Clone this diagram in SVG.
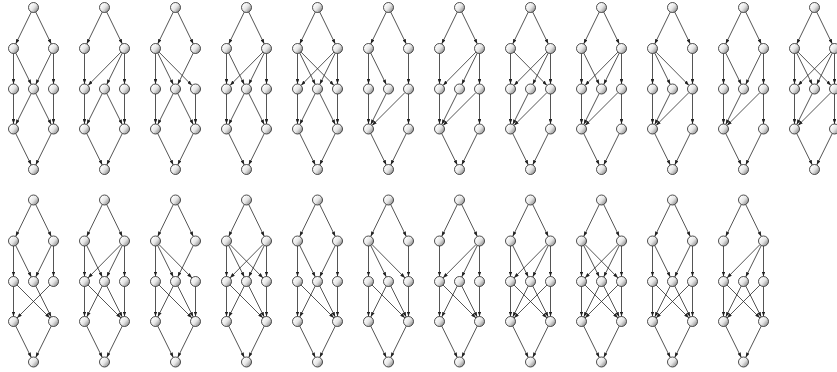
<svg xmlns="http://www.w3.org/2000/svg" xmlns:xlink="http://www.w3.org/1999/xlink" width="837" height="372" viewBox="0 0 837 372">
<defs>
<linearGradient id="gr" x1="0.15" y1="0.2" x2="1" y2="0.9"><stop offset="0" stop-color="#ffffff"/><stop offset="0.45" stop-color="#e6e6e6"/><stop offset="1" stop-color="#7a7a7a"/></linearGradient>
<marker id="ar" viewBox="0 0 5 3.6" refX="5" refY="1.8" markerWidth="5" markerHeight="3.6" markerUnits="userSpaceOnUse" orient="auto"><path d="M0 0L5 1.8L0 3.6Z" fill="#222"/></marker>
<circle id="N" r="5" fill="url(#gr)" stroke="#222" stroke-width="0.8"/>
<path id="TA" d="M-2.19 4.49L-17.81 36.51"/>
<path id="TB" d="M2.19 4.49L17.81 36.51"/>
<path id="Ax" d="M-20 46V76.5"/>
<path id="Bz" d="M20 46V76.5"/>
<path id="Ay" d="M-17.79 45.48L-2.21 77.02"/>
<path id="By" d="M17.79 45.48L2.21 77.02"/>
<path id="Az" d="M-16.49 44.56L16.49 77.94"/>
<path id="Bx" d="M16.49 44.56L-16.49 77.94"/>
<path id="xP" d="M-20 86.5V116.5"/>
<path id="zQ" d="M20 86.5V116.5"/>
<path id="yP" d="M-2.24 85.97L-17.76 117.03"/>
<path id="yQ" d="M2.24 85.97L17.76 117.03"/>
<path id="xQ" d="M-16.46 85.04L16.46 117.96"/>
<path id="zP" d="M16.46 85.04L-16.46 117.96"/>
<path id="PE" d="M-17.79 125.98L-2.21 157.52"/>
<path id="QE" d="M17.79 125.98L2.21 157.52"/>
<g id="F"><use href="#TA"/><use href="#TB"/><use href="#PE"/><use href="#QE"/></g>
</defs>
<style>
.edges{fill:none;stroke:#2a2a2a;stroke-width:0.8;marker-end:url(#ar)}
</style>
<rect width="837" height="372" fill="#ffffff"/>

<g id="lattice-1" transform="translate(33.5 7.5)">
<g class="edges"><use href="#F"/><use href="#Ax"/><use href="#Ay"/><use href="#By"/><use href="#Bz"/><use href="#xP"/><use href="#yP"/><use href="#yQ"/><use href="#zQ"/></g>
<g id="l1-t"><use href="#N"/></g><g id="l1-a"><use href="#N" x="-20" y="41"/></g><g id="l1-b"><use href="#N" x="20" y="41"/></g><g id="l1-x"><use href="#N" x="-20" y="81.5"/></g><g id="l1-y"><use href="#N" x="0" y="81.5"/></g><g id="l1-z"><use href="#N" x="20" y="81.5"/></g><g id="l1-p"><use href="#N" x="-20" y="121.5"/></g><g id="l1-q"><use href="#N" x="20" y="121.5"/></g><g id="l1-e"><use href="#N" x="0" y="162"/></g>
</g>

<g id="lattice-2" transform="translate(104.5 7.5)">
<g class="edges"><use href="#F"/><use href="#Ax"/><use href="#Bx"/><use href="#By"/><use href="#Bz"/><use href="#xP"/><use href="#yP"/><use href="#yQ"/><use href="#zQ"/></g>
<g id="l2-t"><use href="#N"/></g><g id="l2-a"><use href="#N" x="-20" y="41"/></g><g id="l2-b"><use href="#N" x="20" y="41"/></g><g id="l2-x"><use href="#N" x="-20" y="81.5"/></g><g id="l2-y"><use href="#N" x="0" y="81.5"/></g><g id="l2-z"><use href="#N" x="20" y="81.5"/></g><g id="l2-p"><use href="#N" x="-20" y="121.5"/></g><g id="l2-q"><use href="#N" x="20" y="121.5"/></g><g id="l2-e"><use href="#N" x="0" y="162"/></g>
</g>

<g id="lattice-3" transform="translate(175.5 7.5)">
<g class="edges"><use href="#F"/><use href="#Ax"/><use href="#Ay"/><use href="#Az"/><use href="#By"/><use href="#xP"/><use href="#yP"/><use href="#yQ"/><use href="#zQ"/></g>
<g id="l3-t"><use href="#N"/></g><g id="l3-a"><use href="#N" x="-20" y="41"/></g><g id="l3-b"><use href="#N" x="20" y="41"/></g><g id="l3-x"><use href="#N" x="-20" y="81.5"/></g><g id="l3-y"><use href="#N" x="0" y="81.5"/></g><g id="l3-z"><use href="#N" x="20" y="81.5"/></g><g id="l3-p"><use href="#N" x="-20" y="121.5"/></g><g id="l3-q"><use href="#N" x="20" y="121.5"/></g><g id="l3-e"><use href="#N" x="0" y="162"/></g>
</g>

<g id="lattice-4" transform="translate(246.5 7.5)">
<g class="edges"><use href="#F"/><use href="#Ax"/><use href="#Ay"/><use href="#Bx"/><use href="#By"/><use href="#Bz"/><use href="#xP"/><use href="#yP"/><use href="#yQ"/><use href="#zQ"/></g>
<g id="l4-t"><use href="#N"/></g><g id="l4-a"><use href="#N" x="-20" y="41"/></g><g id="l4-b"><use href="#N" x="20" y="41"/></g><g id="l4-x"><use href="#N" x="-20" y="81.5"/></g><g id="l4-y"><use href="#N" x="0" y="81.5"/></g><g id="l4-z"><use href="#N" x="20" y="81.5"/></g><g id="l4-p"><use href="#N" x="-20" y="121.5"/></g><g id="l4-q"><use href="#N" x="20" y="121.5"/></g><g id="l4-e"><use href="#N" x="0" y="162"/></g>
</g>

<g id="lattice-5" transform="translate(317.5 7.5)">
<g class="edges"><use href="#F"/><use href="#Ax"/><use href="#Ay"/><use href="#Az"/><use href="#Bx"/><use href="#By"/><use href="#Bz"/><use href="#xP"/><use href="#yP"/><use href="#yQ"/><use href="#zQ"/></g>
<g id="l5-t"><use href="#N"/></g><g id="l5-a"><use href="#N" x="-20" y="41"/></g><g id="l5-b"><use href="#N" x="20" y="41"/></g><g id="l5-x"><use href="#N" x="-20" y="81.5"/></g><g id="l5-y"><use href="#N" x="0" y="81.5"/></g><g id="l5-z"><use href="#N" x="20" y="81.5"/></g><g id="l5-p"><use href="#N" x="-20" y="121.5"/></g><g id="l5-q"><use href="#N" x="20" y="121.5"/></g><g id="l5-e"><use href="#N" x="0" y="162"/></g>
</g>

<g id="lattice-6" transform="translate(388.5 7.5)">
<g class="edges"><use href="#F"/><use href="#Ax"/><use href="#Ay"/><use href="#Bz"/><use href="#xP"/><use href="#yP"/><use href="#zP"/><use href="#zQ"/></g>
<g id="l6-t"><use href="#N"/></g><g id="l6-a"><use href="#N" x="-20" y="41"/></g><g id="l6-b"><use href="#N" x="20" y="41"/></g><g id="l6-x"><use href="#N" x="-20" y="81.5"/></g><g id="l6-y"><use href="#N" x="0" y="81.5"/></g><g id="l6-z"><use href="#N" x="20" y="81.5"/></g><g id="l6-p"><use href="#N" x="-20" y="121.5"/></g><g id="l6-q"><use href="#N" x="20" y="121.5"/></g><g id="l6-e"><use href="#N" x="0" y="162"/></g>
</g>

<g id="lattice-7" transform="translate(459.5 7.5)">
<g class="edges"><use href="#F"/><use href="#Ax"/><use href="#Bx"/><use href="#By"/><use href="#Bz"/><use href="#xP"/><use href="#yP"/><use href="#zP"/><use href="#zQ"/></g>
<g id="l7-t"><use href="#N"/></g><g id="l7-a"><use href="#N" x="-20" y="41"/></g><g id="l7-b"><use href="#N" x="20" y="41"/></g><g id="l7-x"><use href="#N" x="-20" y="81.5"/></g><g id="l7-y"><use href="#N" x="0" y="81.5"/></g><g id="l7-z"><use href="#N" x="20" y="81.5"/></g><g id="l7-p"><use href="#N" x="-20" y="121.5"/></g><g id="l7-q"><use href="#N" x="20" y="121.5"/></g><g id="l7-e"><use href="#N" x="0" y="162"/></g>
</g>

<g id="lattice-8" transform="translate(530.5 7.5)">
<g class="edges"><use href="#F"/><use href="#Ax"/><use href="#Az"/><use href="#Bx"/><use href="#By"/><use href="#Bz"/><use href="#xP"/><use href="#yP"/><use href="#zP"/><use href="#zQ"/></g>
<g id="l8-t"><use href="#N"/></g><g id="l8-a"><use href="#N" x="-20" y="41"/></g><g id="l8-b"><use href="#N" x="20" y="41"/></g><g id="l8-x"><use href="#N" x="-20" y="81.5"/></g><g id="l8-y"><use href="#N" x="0" y="81.5"/></g><g id="l8-z"><use href="#N" x="20" y="81.5"/></g><g id="l8-p"><use href="#N" x="-20" y="121.5"/></g><g id="l8-q"><use href="#N" x="20" y="121.5"/></g><g id="l8-e"><use href="#N" x="0" y="162"/></g>
</g>

<g id="lattice-9" transform="translate(601.5 7.5)">
<g class="edges"><use href="#F"/><use href="#Ax"/><use href="#Ay"/><use href="#Bx"/><use href="#By"/><use href="#Bz"/><use href="#xP"/><use href="#yP"/><use href="#zP"/><use href="#zQ"/></g>
<g id="l9-t"><use href="#N"/></g><g id="l9-a"><use href="#N" x="-20" y="41"/></g><g id="l9-b"><use href="#N" x="20" y="41"/></g><g id="l9-x"><use href="#N" x="-20" y="81.5"/></g><g id="l9-y"><use href="#N" x="0" y="81.5"/></g><g id="l9-z"><use href="#N" x="20" y="81.5"/></g><g id="l9-p"><use href="#N" x="-20" y="121.5"/></g><g id="l9-q"><use href="#N" x="20" y="121.5"/></g><g id="l9-e"><use href="#N" x="0" y="162"/></g>
</g>

<g id="lattice-10" transform="translate(672.5 7.5)">
<g class="edges"><use href="#F"/><use href="#Ax"/><use href="#Ay"/><use href="#Az"/><use href="#Bz"/><use href="#xP"/><use href="#yP"/><use href="#zP"/><use href="#zQ"/></g>
<g id="l10-t"><use href="#N"/></g><g id="l10-a"><use href="#N" x="-20" y="41"/></g><g id="l10-b"><use href="#N" x="20" y="41"/></g><g id="l10-x"><use href="#N" x="-20" y="81.5"/></g><g id="l10-y"><use href="#N" x="0" y="81.5"/></g><g id="l10-z"><use href="#N" x="20" y="81.5"/></g><g id="l10-p"><use href="#N" x="-20" y="121.5"/></g><g id="l10-q"><use href="#N" x="20" y="121.5"/></g><g id="l10-e"><use href="#N" x="0" y="162"/></g>
</g>

<g id="lattice-11" transform="translate(743.5 7.5)">
<g class="edges"><use href="#F"/><use href="#Ax"/><use href="#Ay"/><use href="#By"/><use href="#Bz"/><use href="#xP"/><use href="#yP"/><use href="#zP"/><use href="#zQ"/></g>
<g id="l11-t"><use href="#N"/></g><g id="l11-a"><use href="#N" x="-20" y="41"/></g><g id="l11-b"><use href="#N" x="20" y="41"/></g><g id="l11-x"><use href="#N" x="-20" y="81.5"/></g><g id="l11-y"><use href="#N" x="0" y="81.5"/></g><g id="l11-z"><use href="#N" x="20" y="81.5"/></g><g id="l11-p"><use href="#N" x="-20" y="121.5"/></g><g id="l11-q"><use href="#N" x="20" y="121.5"/></g><g id="l11-e"><use href="#N" x="0" y="162"/></g>
</g>

<g id="lattice-12" transform="translate(814.5 7.5)">
<g class="edges"><use href="#F"/><use href="#Ax"/><use href="#Ay"/><use href="#Az"/><use href="#Bx"/><use href="#By"/><use href="#Bz"/><use href="#xP"/><use href="#yP"/><use href="#zP"/><use href="#zQ"/></g>
<g id="l12-t"><use href="#N"/></g><g id="l12-a"><use href="#N" x="-20" y="41"/></g><g id="l12-b"><use href="#N" x="20" y="41"/></g><g id="l12-x"><use href="#N" x="-20" y="81.5"/></g><g id="l12-y"><use href="#N" x="0" y="81.5"/></g><g id="l12-z"><use href="#N" x="20" y="81.5"/></g><g id="l12-p"><use href="#N" x="-20" y="121.5"/></g><g id="l12-q"><use href="#N" x="20" y="121.5"/></g><g id="l12-e"><use href="#N" x="0" y="162"/></g>
</g>

<g id="lattice-13" transform="translate(33.5 200)">
<g class="edges"><use href="#F"/><use href="#Ax"/><use href="#Ay"/><use href="#By"/><use href="#Bz"/><use href="#xP"/><use href="#xQ"/><use href="#yQ"/><use href="#zP"/></g>
<g id="l13-t"><use href="#N"/></g><g id="l13-a"><use href="#N" x="-20" y="41"/></g><g id="l13-b"><use href="#N" x="20" y="41"/></g><g id="l13-x"><use href="#N" x="-20" y="81.5"/></g><g id="l13-y"><use href="#N" x="0" y="81.5"/></g><g id="l13-z"><use href="#N" x="20" y="81.5"/></g><g id="l13-p"><use href="#N" x="-20" y="121.5"/></g><g id="l13-q"><use href="#N" x="20" y="121.5"/></g><g id="l13-e"><use href="#N" x="0" y="162"/></g>
</g>

<g id="lattice-14" transform="translate(104.5 200)">
<g class="edges"><use href="#F"/><use href="#Ax"/><use href="#Ay"/><use href="#Bx"/><use href="#By"/><use href="#Bz"/><use href="#xP"/><use href="#xQ"/><use href="#yP"/><use href="#yQ"/><use href="#zQ"/></g>
<g id="l14-t"><use href="#N"/></g><g id="l14-a"><use href="#N" x="-20" y="41"/></g><g id="l14-b"><use href="#N" x="20" y="41"/></g><g id="l14-x"><use href="#N" x="-20" y="81.5"/></g><g id="l14-y"><use href="#N" x="0" y="81.5"/></g><g id="l14-z"><use href="#N" x="20" y="81.5"/></g><g id="l14-p"><use href="#N" x="-20" y="121.5"/></g><g id="l14-q"><use href="#N" x="20" y="121.5"/></g><g id="l14-e"><use href="#N" x="0" y="162"/></g>
</g>

<g id="lattice-15" transform="translate(175.5 200)">
<g class="edges"><use href="#F"/><use href="#Ax"/><use href="#Ay"/><use href="#Az"/><use href="#By"/><use href="#xP"/><use href="#xQ"/><use href="#yP"/><use href="#yQ"/><use href="#zQ"/></g>
<g id="l15-t"><use href="#N"/></g><g id="l15-a"><use href="#N" x="-20" y="41"/></g><g id="l15-b"><use href="#N" x="20" y="41"/></g><g id="l15-x"><use href="#N" x="-20" y="81.5"/></g><g id="l15-y"><use href="#N" x="0" y="81.5"/></g><g id="l15-z"><use href="#N" x="20" y="81.5"/></g><g id="l15-p"><use href="#N" x="-20" y="121.5"/></g><g id="l15-q"><use href="#N" x="20" y="121.5"/></g><g id="l15-e"><use href="#N" x="0" y="162"/></g>
</g>

<g id="lattice-16" transform="translate(246.5 200)">
<g class="edges"><use href="#F"/><use href="#Ax"/><use href="#Ay"/><use href="#Az"/><use href="#Bx"/><use href="#By"/><use href="#Bz"/><use href="#xP"/><use href="#xQ"/><use href="#yP"/><use href="#yQ"/><use href="#zQ"/></g>
<g id="l16-t"><use href="#N"/></g><g id="l16-a"><use href="#N" x="-20" y="41"/></g><g id="l16-b"><use href="#N" x="20" y="41"/></g><g id="l16-x"><use href="#N" x="-20" y="81.5"/></g><g id="l16-y"><use href="#N" x="0" y="81.5"/></g><g id="l16-z"><use href="#N" x="20" y="81.5"/></g><g id="l16-p"><use href="#N" x="-20" y="121.5"/></g><g id="l16-q"><use href="#N" x="20" y="121.5"/></g><g id="l16-e"><use href="#N" x="0" y="162"/></g>
</g>

<g id="lattice-17" transform="translate(317.5 200)">
<g class="edges"><use href="#F"/><use href="#Ax"/><use href="#Ay"/><use href="#By"/><use href="#Bz"/><use href="#xP"/><use href="#xQ"/><use href="#yP"/><use href="#yQ"/><use href="#zQ"/></g>
<g id="l17-t"><use href="#N"/></g><g id="l17-a"><use href="#N" x="-20" y="41"/></g><g id="l17-b"><use href="#N" x="20" y="41"/></g><g id="l17-x"><use href="#N" x="-20" y="81.5"/></g><g id="l17-y"><use href="#N" x="0" y="81.5"/></g><g id="l17-z"><use href="#N" x="20" y="81.5"/></g><g id="l17-p"><use href="#N" x="-20" y="121.5"/></g><g id="l17-q"><use href="#N" x="20" y="121.5"/></g><g id="l17-e"><use href="#N" x="0" y="162"/></g>
</g>

<g id="lattice-18" transform="translate(388.5 200)">
<g class="edges"><use href="#F"/><use href="#Ax"/><use href="#Ay"/><use href="#Az"/><use href="#Bz"/><use href="#xP"/><use href="#xQ"/><use href="#yP"/><use href="#yQ"/><use href="#zQ"/></g>
<g id="l18-t"><use href="#N"/></g><g id="l18-a"><use href="#N" x="-20" y="41"/></g><g id="l18-b"><use href="#N" x="20" y="41"/></g><g id="l18-x"><use href="#N" x="-20" y="81.5"/></g><g id="l18-y"><use href="#N" x="0" y="81.5"/></g><g id="l18-z"><use href="#N" x="20" y="81.5"/></g><g id="l18-p"><use href="#N" x="-20" y="121.5"/></g><g id="l18-q"><use href="#N" x="20" y="121.5"/></g><g id="l18-e"><use href="#N" x="0" y="162"/></g>
</g>

<g id="lattice-19" transform="translate(459.5 200)">
<g class="edges"><use href="#F"/><use href="#Ax"/><use href="#Bx"/><use href="#By"/><use href="#Bz"/><use href="#xP"/><use href="#xQ"/><use href="#yP"/><use href="#yQ"/><use href="#zQ"/></g>
<g id="l19-t"><use href="#N"/></g><g id="l19-a"><use href="#N" x="-20" y="41"/></g><g id="l19-b"><use href="#N" x="20" y="41"/></g><g id="l19-x"><use href="#N" x="-20" y="81.5"/></g><g id="l19-y"><use href="#N" x="0" y="81.5"/></g><g id="l19-z"><use href="#N" x="20" y="81.5"/></g><g id="l19-p"><use href="#N" x="-20" y="121.5"/></g><g id="l19-q"><use href="#N" x="20" y="121.5"/></g><g id="l19-e"><use href="#N" x="0" y="162"/></g>
</g>

<g id="lattice-20" transform="translate(530.5 200)">
<g class="edges"><use href="#F"/><use href="#Ax"/><use href="#Ay"/><use href="#Bx"/><use href="#By"/><use href="#Bz"/><use href="#xP"/><use href="#xQ"/><use href="#yP"/><use href="#yQ"/><use href="#zP"/><use href="#zQ"/></g>
<g id="l20-t"><use href="#N"/></g><g id="l20-a"><use href="#N" x="-20" y="41"/></g><g id="l20-b"><use href="#N" x="20" y="41"/></g><g id="l20-x"><use href="#N" x="-20" y="81.5"/></g><g id="l20-y"><use href="#N" x="0" y="81.5"/></g><g id="l20-z"><use href="#N" x="20" y="81.5"/></g><g id="l20-p"><use href="#N" x="-20" y="121.5"/></g><g id="l20-q"><use href="#N" x="20" y="121.5"/></g><g id="l20-e"><use href="#N" x="0" y="162"/></g>
</g>

<g id="lattice-21" transform="translate(601.5 200)">
<g class="edges"><use href="#F"/><use href="#Ax"/><use href="#Ay"/><use href="#Az"/><use href="#Bx"/><use href="#By"/><use href="#Bz"/><use href="#xP"/><use href="#xQ"/><use href="#yP"/><use href="#yQ"/><use href="#zP"/><use href="#zQ"/></g>
<g id="l21-t"><use href="#N"/></g><g id="l21-a"><use href="#N" x="-20" y="41"/></g><g id="l21-b"><use href="#N" x="20" y="41"/></g><g id="l21-x"><use href="#N" x="-20" y="81.5"/></g><g id="l21-y"><use href="#N" x="0" y="81.5"/></g><g id="l21-z"><use href="#N" x="20" y="81.5"/></g><g id="l21-p"><use href="#N" x="-20" y="121.5"/></g><g id="l21-q"><use href="#N" x="20" y="121.5"/></g><g id="l21-e"><use href="#N" x="0" y="162"/></g>
</g>

<g id="lattice-22" transform="translate(672.5 200)">
<g class="edges"><use href="#F"/><use href="#Ax"/><use href="#Ay"/><use href="#By"/><use href="#Bz"/><use href="#xP"/><use href="#xQ"/><use href="#yP"/><use href="#yQ"/><use href="#zP"/><use href="#zQ"/></g>
<g id="l22-t"><use href="#N"/></g><g id="l22-a"><use href="#N" x="-20" y="41"/></g><g id="l22-b"><use href="#N" x="20" y="41"/></g><g id="l22-x"><use href="#N" x="-20" y="81.5"/></g><g id="l22-y"><use href="#N" x="0" y="81.5"/></g><g id="l22-z"><use href="#N" x="20" y="81.5"/></g><g id="l22-p"><use href="#N" x="-20" y="121.5"/></g><g id="l22-q"><use href="#N" x="20" y="121.5"/></g><g id="l22-e"><use href="#N" x="0" y="162"/></g>
</g>

<g id="lattice-23" transform="translate(743.5 200)">
<g class="edges"><use href="#F"/><use href="#Ax"/><use href="#Bx"/><use href="#By"/><use href="#Bz"/><use href="#xP"/><use href="#xQ"/><use href="#yP"/><use href="#yQ"/><use href="#zP"/><use href="#zQ"/></g>
<g id="l23-t"><use href="#N"/></g><g id="l23-a"><use href="#N" x="-20" y="41"/></g><g id="l23-b"><use href="#N" x="20" y="41"/></g><g id="l23-x"><use href="#N" x="-20" y="81.5"/></g><g id="l23-y"><use href="#N" x="0" y="81.5"/></g><g id="l23-z"><use href="#N" x="20" y="81.5"/></g><g id="l23-p"><use href="#N" x="-20" y="121.5"/></g><g id="l23-q"><use href="#N" x="20" y="121.5"/></g><g id="l23-e"><use href="#N" x="0" y="162"/></g>
</g>
</svg>
